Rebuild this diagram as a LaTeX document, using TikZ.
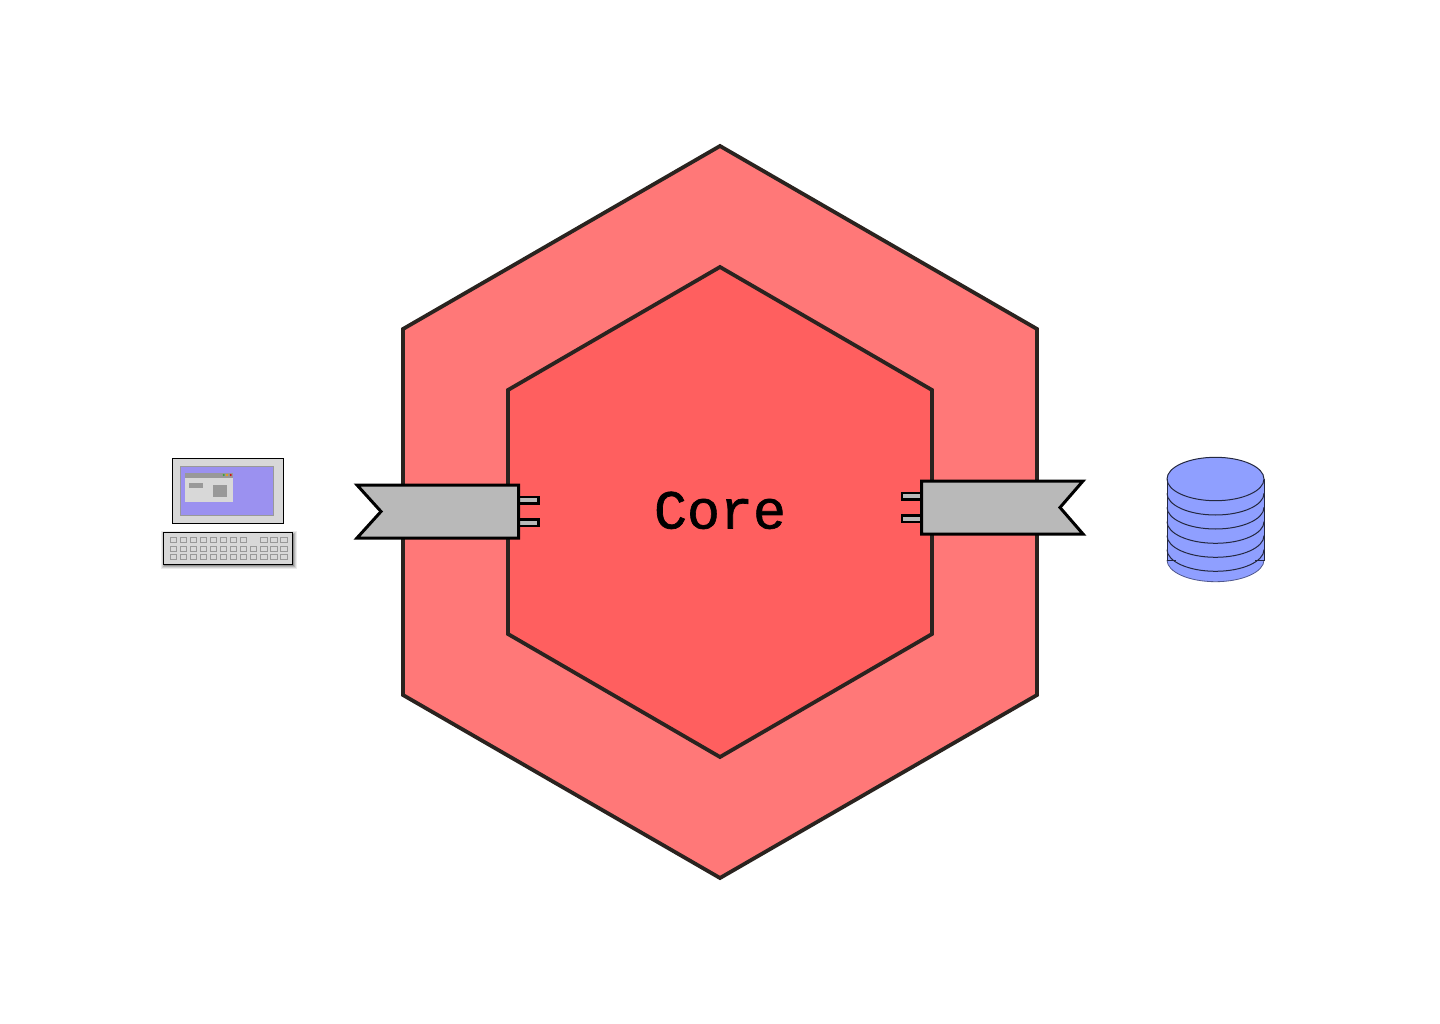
\documentclass[tikz,border=0pt]{standalone}
\usepackage{fontspec}
\newfontfamily\corefont[FakeBold=1.2]{Liberation Mono}
\definecolor{hexline}{HTML}{2A231F}
\definecolor{outerfill}{HTML}{FF7878}
\definecolor{innerfill}{HTML}{FF5F5F}
\definecolor{portgrey}{HTML}{B9B9B9}
\definecolor{casegrey}{HTML}{D8D8D8}
\definecolor{keygrey}{HTML}{999999}
\definecolor{screenblue}{HTML}{9B91F0}
\definecolor{dbblue}{HTML}{8F9FFF}
\tikzset{
  hexshape/.style={draw=hexline,line width=3.8pt,line join=miter},
  portshape/.style={draw=black,fill=portgrey,line width=3pt,line join=miter},
  pinshape/.style={draw=black,fill=portgrey,line width=2.6pt},
  kbkey/.style={draw=keygrey,line width=1.1pt,fill=casegrey},
  dbline/.style={draw=black!75!dbblue,line width=1pt},
}
\begin{document}
\begin{tikzpicture}[x=1pt,y=-1pt]
\useasboundingbox (0,0) rectangle (1440,1024);
\fill[white] (0,0) rectangle (1440,1024);
% hexagons
\draw[hexshape,fill=outerfill] (720,146) -- (1037,329) -- (1037,695) -- (720,878) -- (403,695) -- (403,329) -- cycle;
\draw[hexshape,fill=innerfill] (720,267) -- (932,390) -- (932,634) -- (720,757) -- (508,634) -- (508,390) -- cycle;
\node[font=\corefont\fontsize{55}{55}\selectfont,text=black,inner sep=0pt,anchor=base] (core) at (720,528.5) {Core};
% left port
\draw[pinshape,fill=portgrey] (516,497) -- (538.5,497) -- (538.5,503.2) -- (516,503.2);
\draw[pinshape,fill=portgrey] (516,519.7) -- (538.5,519.7) -- (538.5,526) -- (516,526);
\draw[portshape] (357,485) -- (518.5,485) -- (518.5,538) -- (357,538) -- (381,511.5) -- cycle;
% right port
\draw[pinshape,fill=portgrey] (924,493) -- (902,493) -- (902,499.2) -- (924,499.2);
\draw[pinshape,fill=portgrey] (924,515.7) -- (902,515.7) -- (902,522) -- (924,522);
\draw[portshape] (921.5,481) -- (1083,481) -- (1060,507.5) -- (1083,534) -- (921.5,534) -- cycle;
% computer monitor
\draw[black,line width=1pt,fill=casegrey] (172.7,458.7) rectangle (283.3,523.3);
\draw[keygrey,line width=1pt,fill=screenblue] (180.5,466.5) rectangle (273.5,515.7);
\fill[casegrey] (185,477.7) rectangle (233,501.7);
\fill[keygrey] (185,473) rectangle (233,477.7);
\fill[green!55!black!80] (223.7,475) circle (1.1pt);
\fill[orange!80!yellow] (227,475) circle (1.1pt);
\fill[red!85!black] (230.7,475) circle (1.1pt);
\fill[keygrey] (189,483) rectangle (203,488);
\fill[keygrey] (213,485) rectangle (227,497);
% keyboard
\foreach \d/\o in {4/0.08,3/0.10,2/0.14,1/0.20}{
  \fill[black,opacity=\o] (163.3+1-\d+1,533.7-\d+1) rectangle (292.7+\d,564.7+\d);
}
\draw[black,line width=1pt,fill=casegrey] (163.3,532.7) rectangle (292.7,564.7);
\foreach \x in {173.3,183.3,193.3,203.3,213.3,223.3,233.3,243.3,264,274,284}{
  \draw[kbkey] (\x-3.2,537.6) rectangle (\x+3.2,542.4);
}
\foreach \y in {549,557}{
  \foreach \x in {173.3,183.3,193.3,203.3,213.3,223.3,233.3,243.3,253.5,264,274,284}{
    \draw[kbkey] (\x-3.2,\y-2.4) rectangle (\x+3.2,\y+2.4);
  }
}
% database
\fill[dbblue] (1167,479) -- (1167,560) arc[start angle=180,end angle=0,x radius=48.5,y radius=21.7] -- (1264,479) arc[start angle=0,end angle=-180,x radius=48.5,y radius=21.7] -- cycle;
\draw[black!45!dbblue,line width=0.8pt] (1167,560) arc[start angle=180,end angle=0,x radius=48.5,y radius=21.7];
\foreach \c in {549.6,535.6,521.6,507.3,493.3}{
  \draw[dbline] (1167,\c) arc[start angle=180,end angle=0,x radius=48.5,y radius=21.7];
}
\draw[dbline] (1167,479) -- (1167,560) -- (1176,560);
\draw[dbline] (1264,479) -- (1264,560) -- (1255,560);
\draw[dbline] (1167,479) arc[start angle=180,end angle=-180,x radius=48.5,y radius=21.7];
\end{tikzpicture}
\end{document}
